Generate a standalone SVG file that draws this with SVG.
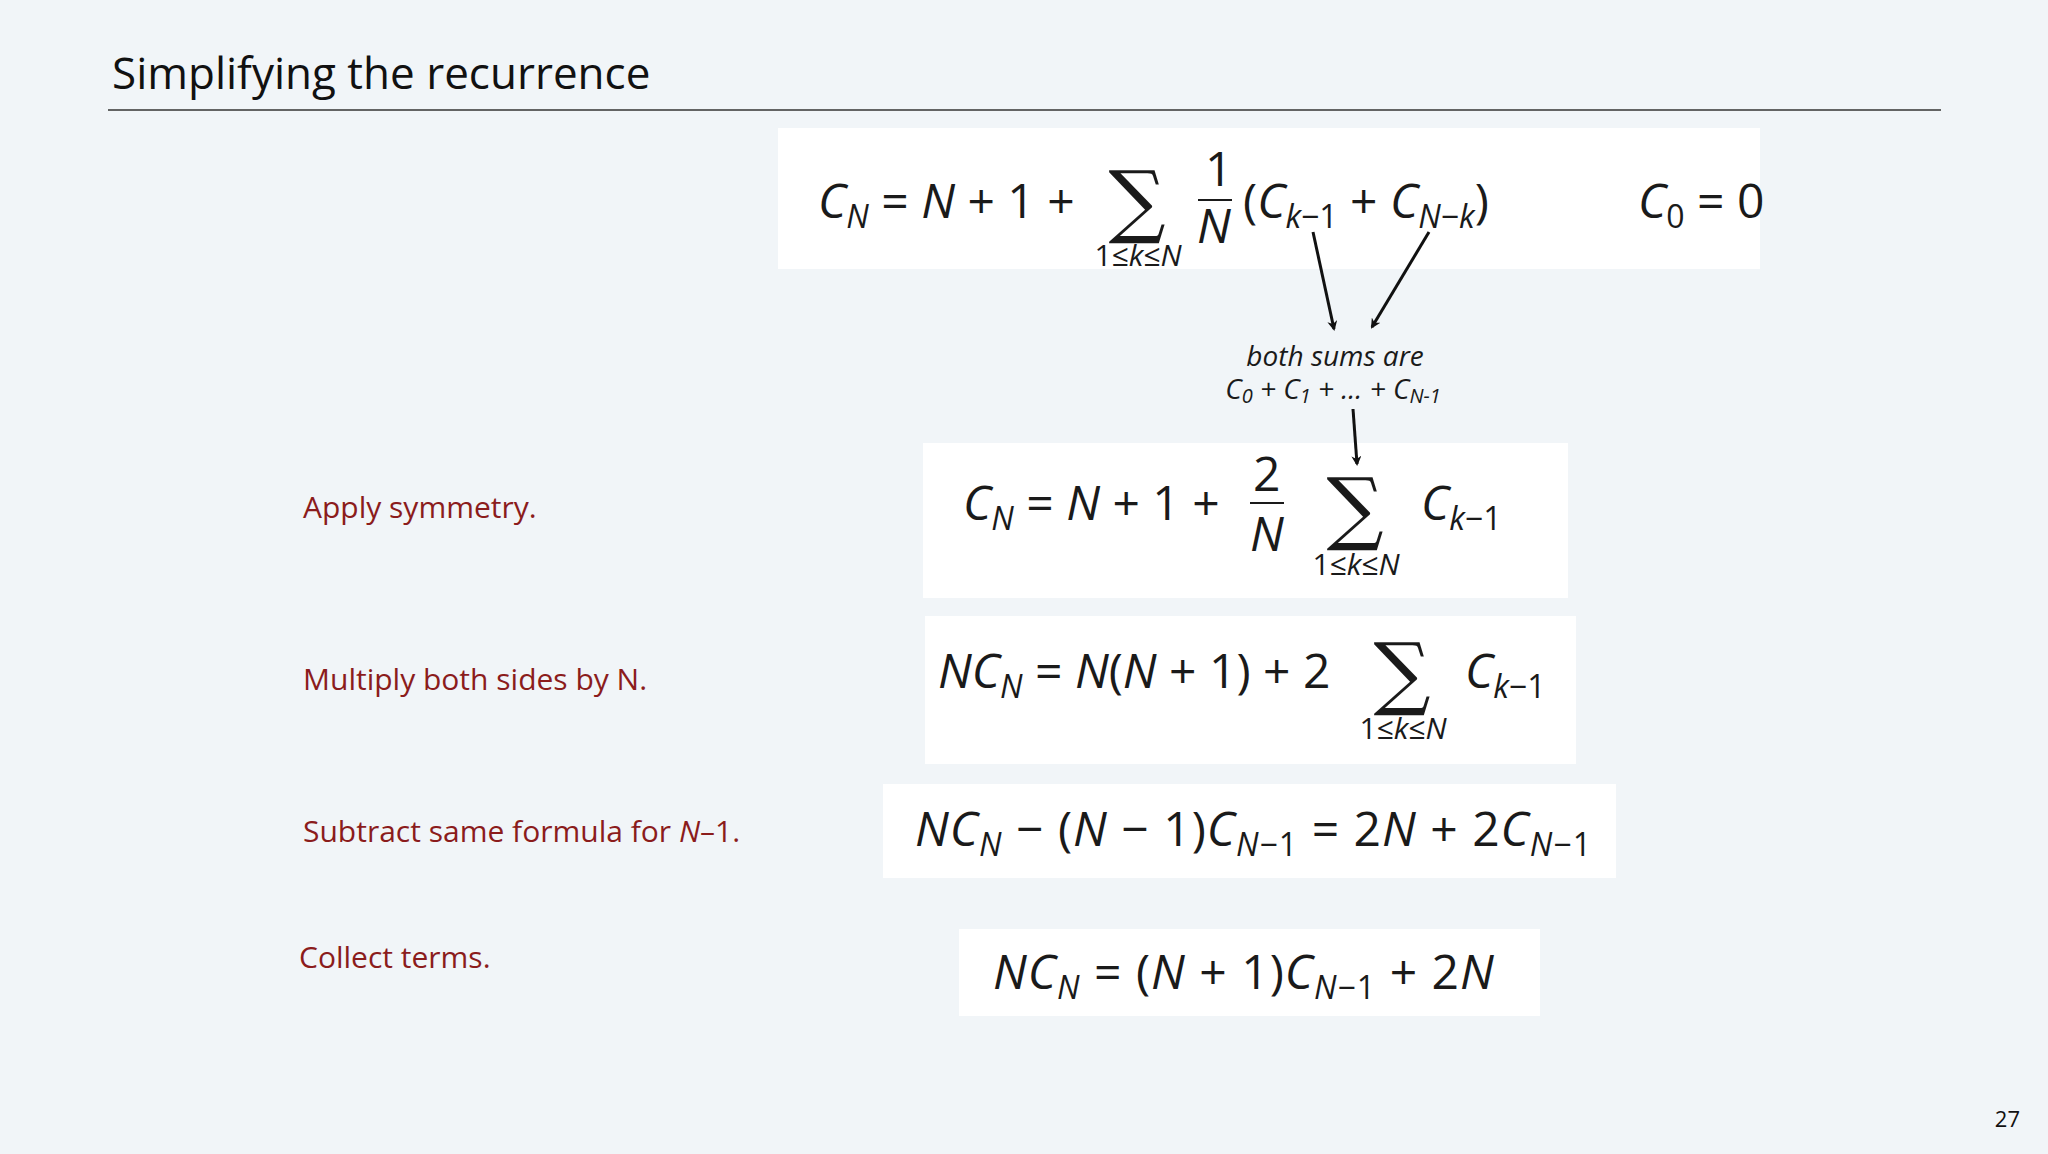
<svg xmlns="http://www.w3.org/2000/svg" width="2048" height="1154" viewBox="0 0 2048 1154">
<defs>
<style>
.m{font-family:"Open Sans","DejaVu Sans",sans-serif;font-size:48px;fill:#1a1a1a}
.v{font-style:italic}
.s{font-size:32px}
.lim{font-family:"Open Sans",sans-serif;font-size:30px;fill:#1a1a1a;text-anchor:middle}
.sig{font-family:"DejaVu Serif",serif;font-size:80px;fill:#1a1a1a;text-anchor:middle}
.lab{font-family:"Open Sans","Liberation Sans",sans-serif;font-size:30px;fill:#8b1c1c}
.box{fill:#ffffff}
.note{font-family:"Open Sans",sans-serif;font-style:italic;font-size:28px;fill:#1a1a1a}
.ar{stroke:#111;stroke-width:3;fill:none;marker-end:url(#ah)}
</style>
<marker id="ah" markerWidth="10" markerHeight="10" refX="8" refY="5" orient="auto" markerUnits="userSpaceOnUse" viewBox="0 0 10 10"><path d="M0,0 L10,5 L0,10 L3,5 Z" fill="#111"/></marker>
</defs>
<rect width="2048" height="1154" fill="#f1f5f8"/>
<g id="title">
<text x="112" y="89" font-family="Open Sans,Liberation Sans,sans-serif" font-size="44" fill="#111">Simplifying the recurrence</text>
<line x1="108" y1="110" x2="1941" y2="110" stroke="#333" stroke-width="1.5"/>
</g>
<g id="eq1">
<rect class="box" x="778" y="128" width="982" height="141"/>
<text class="m" x="818" y="218"><tspan class="v">C</tspan><tspan class="v s" dy="10">N</tspan><tspan dy="-10"> = </tspan><tspan class="v">N</tspan> + 1 +</text>
<text class="sig" x="1137" y="228">∑</text>
<text class="lim" x="1138" y="266">1≤<tspan font-style="italic">k</tspan>≤<tspan font-style="italic">N</tspan></text>
<text class="m" x="1205" y="186">1</text>
<line x1="1198" y1="200" x2="1232" y2="200" stroke="#1a1a1a" stroke-width="2"/>
<text class="m v" x="1197" y="243">N</text>
<text class="m" x="1243" y="218">(<tspan class="v">C</tspan><tspan class="v s" dy="10">k</tspan><tspan class="s" dy="0">−1</tspan><tspan dy="-10"> + </tspan><tspan class="v">C</tspan><tspan class="v s" dy="10">N</tspan><tspan class="s">−</tspan><tspan class="v s">k</tspan><tspan dy="-10">)</tspan></text>
<text class="m" x="1638" y="218"><tspan class="v">C</tspan><tspan class="s" dy="10">0</tspan><tspan dy="-10"> = 0</tspan></text>
</g>
<g id="note">
<text class="note" x="1335" y="366" text-anchor="middle">both sums are</text>
<text class="note" x="1333" y="399" text-anchor="middle">C<tspan font-size="20" dy="4">0</tspan><tspan dy="-4"> + C</tspan><tspan font-size="20" dy="4">1</tspan><tspan dy="-4"> + ... + C</tspan><tspan font-size="20" dy="4">N-1</tspan></text>
</g>
<g id="eq2">
<rect class="box" x="923" y="443" width="645" height="155"/>
<text class="lab" x="303" y="518">Apply symmetry.</text>
<text class="m" x="963" y="520"><tspan class="v">C</tspan><tspan class="v s" dy="10">N</tspan><tspan dy="-10"> = </tspan><tspan class="v">N</tspan> + 1 +</text>
<text class="m" x="1253" y="491">2</text>
<line x1="1250" y1="503" x2="1284" y2="503" stroke="#1a1a1a" stroke-width="2"/>
<text class="m v" x="1250" y="551">N</text>
<text class="sig" x="1355" y="535">∑</text>
<text class="lim" x="1356" y="575">1≤<tspan font-style="italic">k</tspan>≤<tspan font-style="italic">N</tspan></text>
<text class="m" x="1421" y="520"><tspan class="v">C</tspan><tspan class="v s" dy="10">k</tspan><tspan class="s">−1</tspan></text>
</g>
<g id="eq3">
<rect class="box" x="925" y="616" width="651" height="148"/>
<text class="lab" x="303" y="690">Multiply both sides by N.</text>
<text class="m" x="938" y="688"><tspan class="v">NC</tspan><tspan class="v s" dy="10">N</tspan><tspan dy="-10"> = </tspan><tspan class="v">N</tspan>(<tspan class="v">N</tspan> + 1) + 2</text>
<text class="sig" x="1402" y="700">∑</text>
<text class="lim" x="1403" y="739">1≤<tspan font-style="italic">k</tspan>≤<tspan font-style="italic">N</tspan></text>
<text class="m" x="1465" y="688"><tspan class="v">C</tspan><tspan class="v s" dy="10">k</tspan><tspan class="s">−1</tspan></text>
</g>
<g id="eq4">
<rect class="box" x="883" y="784" width="733" height="94"/>
<text class="lab" x="303" y="842">Subtract same formula for <tspan font-style="italic">N</tspan>–1.</text>
<text class="m" x="915" y="846" letter-spacing="1"><tspan class="v">NC</tspan><tspan class="v s" dy="10">N</tspan><tspan dy="-10"> − (</tspan><tspan class="v">N</tspan> − 1)<tspan class="v">C</tspan><tspan class="v s" dy="10">N</tspan><tspan class="s">−1</tspan><tspan dy="-10"> = 2</tspan><tspan class="v">N</tspan> + 2<tspan class="v">C</tspan><tspan class="v s" dy="10">N</tspan><tspan class="s">−1</tspan></text>
</g>
<g id="eq5">
<rect class="box" x="959" y="929" width="581" height="87"/>
<text class="lab" x="299" y="968">Collect terms.</text>
<text class="m" x="993" y="989" letter-spacing="1"><tspan class="v">NC</tspan><tspan class="v s" dy="10">N</tspan><tspan dy="-10"> = (</tspan><tspan class="v">N</tspan> + 1)<tspan class="v">C</tspan><tspan class="v s" dy="10">N</tspan><tspan class="s">−1</tspan><tspan dy="-10"> + 2</tspan><tspan class="v">N</tspan></text>
</g>
<g id="connectors">
<line class="ar" x1="1313" y1="232" x2="1334" y2="329"/>
<line class="ar" x1="1429" y1="232" x2="1372" y2="327"/>
<line class="ar" x1="1353" y1="409" x2="1357" y2="464"/>
</g>
<text x="2020" y="1127" text-anchor="end" font-family="Open Sans,sans-serif" font-size="22" fill="#111">27</text>
</svg>
